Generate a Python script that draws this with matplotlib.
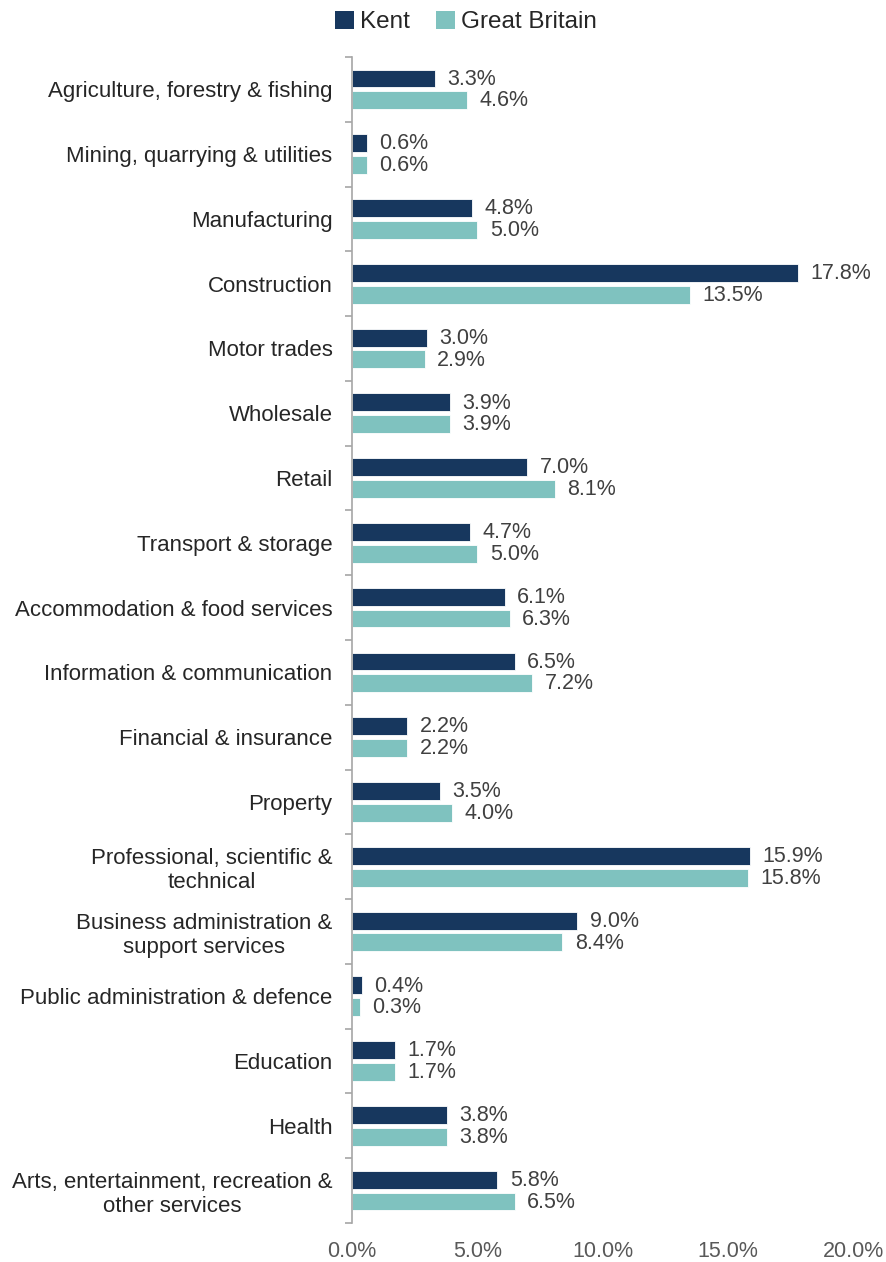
import matplotlib
matplotlib.use("Agg")
import matplotlib.pyplot as plt
import numpy as np
from matplotlib.patches import Patch

categories = [
    "Agriculture, forestry & fishing",
    "Mining, quarrying & utilities",
    "Manufacturing",
    "Construction",
    "Motor trades",
    "Wholesale",
    "Retail",
    "Transport & storage",
    "Accommodation & food services",
    "Information & communication",
    "Financial & insurance",
    "Property",
    "Professional, scientific &\ntechnical",
    "Business administration &\nsupport services",
    "Public administration & defence",
    "Education",
    "Health",
    "Arts, entertainment, recreation &\nother services",
]
kent = [3.3, 0.6, 4.8, 17.8, 3.0, 3.9, 7.0, 4.7, 6.1, 6.5, 2.2, 3.5, 15.9, 9.0, 0.4, 1.7, 3.8, 5.8]
gb = [4.6, 0.6, 5.0, 13.5, 2.9, 3.9, 8.1, 5.0, 6.3, 7.2, 2.2, 4.0, 15.8, 8.4, 0.3, 1.7, 3.8, 6.5]
series_names = ["Kent", "Great Britain"]
xticks = [0, 5, 10, 15, 20]
xticklabels = ["0.0%", "5.0%", "10.0%", "15.0%", "20.0%"]

KENT_C = "#17375E"
GB_C = "#7FC2BF"
TXT = "#404040"

plt.rcParams['font.family'] = ['Liberation Sans', 'DejaVu Sans']

fig = plt.figure(figsize=(8.86, 12.62), dpi=100)
ax = fig.add_axes([352/886, 1 - 1223/1262, (853-352)/886, (1223-57)/1262])

y = np.arange(len(categories))
h = 0.275
off = 0.168
b1 = ax.barh(y - off, kent, height=h, color=KENT_C, edgecolor="white", linewidth=0.6)
b2 = ax.barh(y + off, gb, height=h, color=GB_C, edgecolor="white", linewidth=0.6)

for bars, vals in ((b1, kent), (b2, gb)):
    for rect, v in zip(bars, vals):
        ax.annotate(f"{v:.1f}%", (rect.get_width(), rect.get_y() + rect.get_height()/2),
                    xytext=(9, -0.5), textcoords="offset points", ha="left", va="center",
                    fontsize=15.5, color=TXT)

ax.set_xlim(0, 20)
ax.set_ylim(len(categories) - 0.5, -0.5)
ax.set_yticks(y)
ax.set_yticklabels(categories, fontsize=16, color="#262626", multialignment="center")
ax.set_yticks(np.arange(-0.5, len(categories)), minor=True)
ax.tick_params(axis="y", which="major", length=0, pad=14)
ax.tick_params(axis="y", which="minor", length=5, width=1.2, color="#A6A6A6", direction="out")
ax.set_xticks(xticks)
ax.set_xticklabels(xticklabels, fontsize=15.5, color="#595959")
ax.tick_params(axis="x", length=0, pad=13)

for s in ("top", "right", "bottom"):
    ax.spines[s].set_visible(False)
ax.spines["left"].set_color("#A6A6A6")
ax.spines["left"].set_linewidth(1.2)

handles = [Patch(facecolor=KENT_C, edgecolor="none"), Patch(facecolor=GB_C, edgecolor="none")]
fig.legend(handles, series_names, loc="center", bbox_to_anchor=(466/886, 1 - 22/1262),
           ncol=2, frameon=False, fontsize=17.5, handlelength=0.75, handleheight=0.75,
           handletextpad=0.25, columnspacing=1.1, labelcolor="#262626")

fig.savefig("out.png", dpi=100)
